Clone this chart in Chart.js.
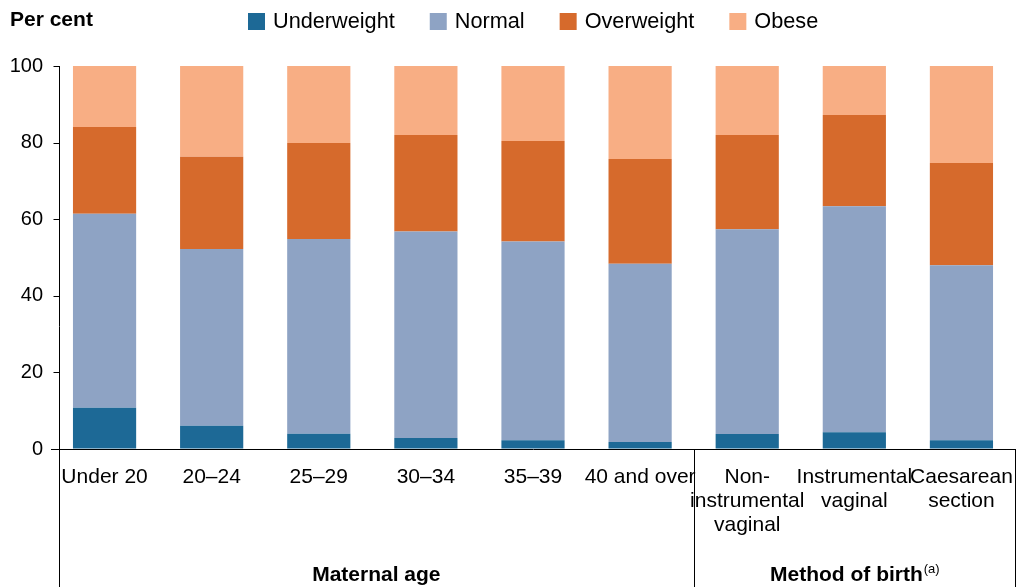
<!DOCTYPE html>
<html>
<head>
<meta charset="utf-8">
<script src="https://cdn.jsdelivr.net/npm/chart.js@4.4.1/dist/chart.umd.min.js"></script>
<style>
  html, body { margin: 0; padding: 0; background: #fff; }
</style>
</head>
<body>
<canvas id="barchart" width="1023" height="587"></canvas>
<script>
var categories = [
    'Under 20', '20–24', '25–29', '30–34', '35–39', '40 and over',
    ['Non-', 'instrumental', 'vaginal'], ['Instrumental', 'vaginal'], ['Caesarean', 'section']
];
var underweight = [10.8, 6.1, 4.0, 2.9, 2.3, 1.8, 3.9, 4.4, 2.3];
var normal      = [50.6, 46.1, 50.8, 53.9, 51.9, 46.6, 53.5, 59.0, 45.7];
var overweight  = [22.7, 24.1, 25.1, 25.2, 26.2, 27.3, 24.6, 23.8, 26.7];
var obese       = [15.9, 23.7, 20.1, 18.0, 19.6, 24.3, 18.0, 12.8, 25.3];
var yTicks = [0, 20, 40, 60, 80, 100];
var groups = [
    { label: 'Maternal age', sup: '', from: 0, to: 5 },
    { label: 'Method of birth', sup: '(a)', from: 6, to: 8 }
];

var colours = ['#1d6996', '#8ea3c4', '#d66a2c', '#f8ae84'];
var FONT = '"Liberation Sans", Arial, sans-serif';
var AXIS_X = 59; // the y axis line sits a little inside the first category

// legend, y title, y axis line, group labels and separators
var extrasPlugin = {
    id: 'extras',
    afterDraw: function(chart) {
        var ctx = chart.ctx;
        var area = chart.chartArea;
        var x = chart.scales.x;
        var y = chart.scales.y;
        var H = chart.height;
        ctx.save();

        ctx.fillStyle = '#000';
        ctx.font = 'bold 21px ' + FONT;
        ctx.textBaseline = 'middle';
        ctx.textAlign = 'left';
        ctx.fillText('Per cent', 10, 20);

        // legend
        ctx.font = '21.7px ' + FONT;
        var lx = 248;
        chart.data.datasets.forEach(function(ds) {
            ctx.fillStyle = ds.backgroundColor;
            ctx.fillRect(lx, 13, 17, 17);
            ctx.fillStyle = '#000';
            ctx.fillText(ds.label, lx + 25, 22);
            lx += 25 + ctx.measureText(ds.label).width + 35;
        });

        // y axis line and tick marks
        ctx.strokeStyle = '#000';
        ctx.lineWidth = 1;
        var ax = AXIS_X + 0.5;
        ctx.beginPath();
        ctx.moveTo(ax, area.top);
        ctx.lineTo(ax, H);
        yTicks.forEach(function(v) {
            var py = Math.round(y.getPixelForValue(v)) + 0.5;
            ctx.moveTo(ax - 6, py);
            ctx.lineTo(ax, py);
        });
        ctx.stroke();

        // separators below the axis
        var step = x.getPixelForValue(1) - x.getPixelForValue(0);
        groups.forEach(function(g) {
            var sx = Math.round(x.getPixelForValue(g.to) + step / 2) + 0.5;
            ctx.beginPath();
            ctx.moveTo(sx, area.bottom);
            ctx.lineTo(sx, H);
            ctx.stroke();
        });

        // group labels
        groups.forEach(function(g) {
            var left = Math.max(x.getPixelForValue(g.from) - step / 2, AXIS_X);
            var right = x.getPixelForValue(g.to) + step / 2;
            var cx = (left + right) / 2;
            ctx.font = 'bold 21px ' + FONT;
            var w = ctx.measureText(g.label).width;
            ctx.font = '13px ' + FONT;
            var sw = g.sup ? ctx.measureText(g.sup).width : 0;
            var start = cx - (w + sw) / 2;
            ctx.font = 'bold 21px ' + FONT;
            ctx.textAlign = 'left';
            ctx.textBaseline = 'alphabetic';
            ctx.fillText(g.label, start, 581);
            if (g.sup) {
                ctx.font = '13px ' + FONT;
                ctx.fillText(g.sup, start + w + 1, 573);
            }
        });
        ctx.restore();
    }
};

function initBarChart() {
    var canvas = document.getElementById('barchart');
    var barCtx = canvas.getContext('2d');

    var config = {
        type: 'bar',
        data: {
            labels: categories,
            datasets: [
                { label: 'Underweight', data: underweight, backgroundColor: colours[0] },
                { label: 'Normal', data: normal, backgroundColor: colours[1] },
                { label: 'Overweight', data: overweight, backgroundColor: colours[2] },
                { label: 'Obese', data: obese, backgroundColor: colours[3] }
            ]
        },
        options: {
            responsive: false,
            animation: false,
            devicePixelRatio: 1,
            layout: { padding: { top: 66, right: 8, left: 0, bottom: 0 } },
            datasets: {
                bar: { categoryPercentage: 1.0, barPercentage: 0.59, borderWidth: 0 }
            },
            plugins: {
                legend: { display: false },
                tooltip: { enabled: false }
            },
            scales: {
                x: {
                    stacked: true,
                    afterFit: function(scale) {
                        scale.height = 138;
                        scale.paddingLeft = 0;
                        scale.paddingRight = 0;
                    },
                    grid: { display: false, drawTicks: false },
                    border: { display: true, color: '#000', width: 1 },
                    ticks: {
                        color: '#000',
                        font: { family: FONT, size: 21, lineHeight: 1.14 },
                        padding: 16,
                        maxRotation: 0,
                        autoSkip: false
                    }
                },
                y: {
                    stacked: true,
                    min: 0,
                    max: 100,
                    afterFit: function(scale) { scale.width = 51; },
                    afterBuildTicks: function(scale) {
                        scale.ticks = yTicks.map(function(v) { return { value: v }; });
                    },
                    grid: { drawOnChartArea: false, drawTicks: false },
                    border: { display: false },
                    ticks: {
                        color: '#000',
                        font: { family: FONT, size: 20 },
                        padding: 8
                    }
                }
            }
        },
        plugins: [extrasPlugin]
    };

    new Chart(barCtx, config);
}

document.addEventListener('DOMContentLoaded', initBarChart);
</script>
</body>
</html>
